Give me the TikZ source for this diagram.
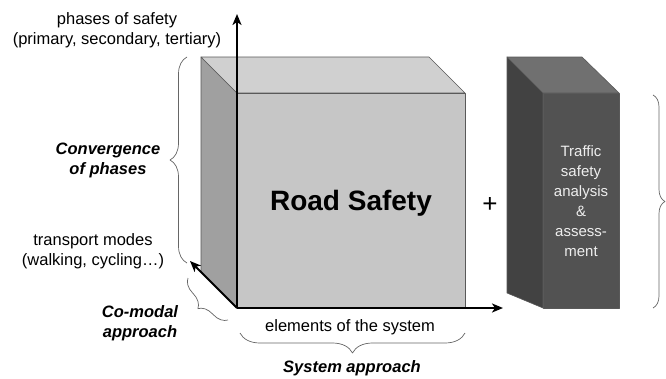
\documentclass[tikz,border=0pt]{standalone}
\usepackage{fontspec}
\setmainfont{Liberation Sans}
\usetikzlibrary{decorations.pathreplacing,arrows.meta}
\definecolor{cubefront}{RGB}{198,198,198}
\definecolor{cubeleft}{RGB}{160,160,160}
\definecolor{cubetop}{RGB}{208,208,208}
\definecolor{boxfront}{RGB}{82,82,82}
\definecolor{boxleft}{RGB}{66,66,66}
\definecolor{boxtop}{RGB}{112,112,112}
\definecolor{boxtext}{RGB}{238,238,238}
\begin{document}
\begin{tikzpicture}[>={Stealth[length=11pt,width=9pt,inset=3pt]}, x=1pt, y=-1pt, line join=round,
    face/.style={draw=black!65, line width=0.6pt},
    axis/.style={->, line width=2pt},
    brc/.style={decorate, decoration={brace, amplitude=#1}, draw=black!60, line width=0.7pt},
    lbl/.style={font=\fontsize{16.5}{20}\selectfont, align=center, inner sep=0pt},
    blbl/.style={lbl, font=\fontsize{16.5}{20}\selectfont\bfseries\itshape}]
    \useasboundingbox (0,0) rectangle (666,378);
    % big cube
    \coordinate (O) at (237,308);
    \coordinate (F1) at (237,93); \coordinate (F2) at (465,93); \coordinate (F3) at (465,308);
    \coordinate (B1) at (201,57); \coordinate (B2) at (429,57); \coordinate (B4) at (201,272);
    \filldraw[face, fill=cubeleft] (B1) -- (F1) -- (O) -- (B4) -- cycle;
    \filldraw[face, fill=cubetop] (B1) -- (B2) -- (F2) -- (F1) -- cycle;
    \filldraw[face, fill=cubefront] (F1) -- (F2) -- (F3) -- (O) -- cycle;
    \node[font=\fontsize{28}{32}\selectfont\bfseries] (road) at (351,203) {Road Safety};
    % dark box
    \coordinate (G1) at (543,93); \coordinate (G2) at (619,93);
    \coordinate (G3) at (619,308); \coordinate (G4) at (543,308);
    \coordinate (C1) at (507,57); \coordinate (C2) at (582,57); \coordinate (C4) at (507,293);
    \filldraw[face, fill=boxleft] (C1) -- (G1) -- (G4) -- (C4) -- cycle;
    \filldraw[face, fill=boxtop] (C1) -- (C2) -- (G2) -- (G1) -- cycle;
    \filldraw[face, fill=boxfront] (G1) -- (G2) -- (G3) -- (G4) -- cycle;
    \node[lbl, font=\fontsize{15}{20}\selectfont, text=boxtext] (tsa) at (581,201)
        {Traffic\\safety\\analysis\\\&\\assess-\\ment};
    \node[font=\fontsize{26}{30}\selectfont] (plus) at (490,205) {+};
    % axes
    \coordinate (yend) at (237,14);
    \coordinate (xend) at (503,308);
    \coordinate (zend) at (190,261);
    \draw[axis] (O) -- (yend);
    \draw[axis] (O) -- (xend);
    \draw[axis] (O) -- (zend);
    % axis labels
    \node[lbl] (phases) at (117,30) {phases of safety\\(primary, secondary, tertiary)};
    \node[lbl] (modes) at (93,251) {transport modes\\(walking, cycling\ldots)};
    \node[lbl] (elem) at (350,327) {elements of the system};
    % braces
    \draw[brc=17] (187,263) -- (187,57);
    \draw[brc=14] (228,320) -- (188,278);
    \draw[brc=20] (465,333) -- (240,333);
    \draw[brc=12] (653,95) -- (653,308);
    \node[blbl] (conv) at (108,160) {Convergence\\of phases};
    \node[blbl] (comodal) at (140,323) {Co-modal\\approach};
    \node[blbl] (sysapp) at (352,368) {System approach};
\end{tikzpicture}
\end{document}
